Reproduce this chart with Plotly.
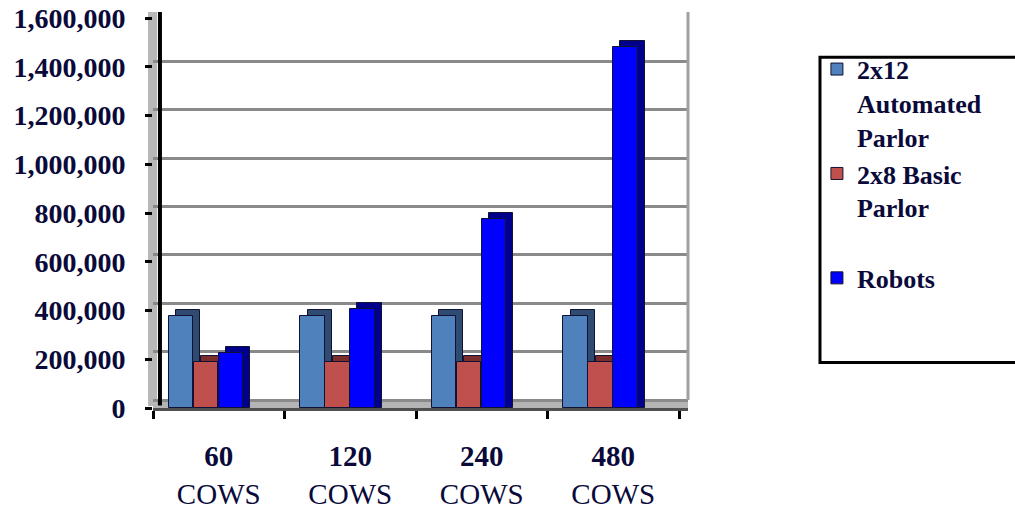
import plotly.graph_objects as go

categories = ["<b>60</b><br>COWS", "<b>120</b><br>COWS", "<b>240</b><br>COWS", "<b>480</b><br>COWS"]
series_names = ["<b>2x12<br>Automated<br>Parlor</b>", "<b>2x8 Basic<br>Parlor</b><br> ", "<b>Robots</b>"]
automated = [378000, 378000, 378000, 378000]
basic = [188000, 188000, 188000, 188000]
robots = [225000, 405000, 775000, 1480000]
tick_vals = [0, 200000, 400000, 600000, 800000, 1000000, 1200000, 1400000, 1600000]
tick_text = ["<b>0</b>", "<b>200,000</b>", "<b>400,000</b>", "<b>600,000</b>", "<b>800,000</b>",
             "<b>1,000,000</b>", "<b>1,200,000</b>", "<b>1,400,000</b>", "<b>1,600,000</b>"]

series = [automated, basic, robots]
front_colors = ["#4F81BD", "#C0504D", "#0000FF"]
side_colors = ["#2F4B72", "#7A2D2A", "#00008C"]
offsets = [-0.38, -0.19, 0.0]
W = 0.185
DX = 0.055     # depth shift (category units)
DY = 26000     # depth rise (value units)

fig = go.Figure()
for vals, name, fc, sc, off in zip(series, series_names, front_colors, side_colors, offsets):
    fig.add_trace(go.Bar(
        x=categories, y=[v + DY for v in vals], base=0, width=W, offset=off + DX,
        marker=dict(color=sc, line=dict(color="#111133", width=1)),
        showlegend=False, hoverinfo="skip"))
    fig.add_trace(go.Bar(
        x=categories, y=vals, width=W, offset=off, name=name,
        marker=dict(color=fc, line=dict(color="#111133", width=1))))

# invisible trace to anchor back-wall gridline axis
fig.add_trace(go.Scatter(x=categories, y=[None] * 4, yaxis="y2", showlegend=False, hoverinfo="skip"))

font_main = "Liberation Serif"
txt_color = "#0a0a3a"
fig.update_layout(
    width=1015, height=511,
    margin=dict(l=153, r=327, t=12, b=103),
    paper_bgcolor="white", plot_bgcolor="white",
    barmode="overlay", bargap=0,
    xaxis=dict(
        type="category", range=[-0.5, 3.5684],
        tickson="boundaries", ticks="outside", ticklen=8, tickwidth=3, tickcolor="black",
        showline=True, linecolor="#505050", linewidth=3, showgrid=False, zeroline=False,
        tickfont=dict(family=font_main, size=29, color=txt_color), ticklabelstandoff=20,
        automargin=False,
    ),
    yaxis=dict(
        range=[0, 1625000], tickvals=tick_vals, ticktext=tick_text,
        ticks="outside", ticklen=7, tickwidth=3, tickcolor="black",
        showgrid=False, zeroline=False, showline=False,
        tickfont=dict(family=font_main, size=28, color=txt_color), ticklabelstandoff=14,
        automargin=False,
    ),
    yaxis2=dict(
        overlaying="y", range=[-31800, 1603300], tickvals=tick_vals,
        showticklabels=False, ticks="", showgrid=True, gridcolor="#8a8a8a", gridwidth=3,
        zeroline=False, showline=False, automargin=False,
    ),
    legend=dict(
        x=1.241, y=0.915, xanchor="left", yanchor="top", valign="top",
        font=dict(family=font_main, size=26, color=txt_color),
        bgcolor="rgba(0,0,0,0)", borderwidth=0, traceorder="normal",
    ),
    shapes=[
        dict(type="rect", xref="paper", yref="paper", x0=0, x1=1, y0=0, y1=0.0195,
             fillcolor="#b4b4b4", line=dict(width=0), layer="below"),
        dict(type="rect", xref="paper", yref="paper", x0=-0.0093, x1=0.0075, y0=0.005, y1=1.0,
             fillcolor="#b8b8b8", line=dict(width=0), layer="below"),
        dict(type="line", xref="paper", yref="paper", x0=0.013, x1=0.013, y0=0.006, y1=1.0,
             line=dict(color="black", width=4)),
        dict(type="line", xref="paper", yref="paper", x0=1.0, x1=1.0, y0=0.02, y1=1.0,
             line=dict(color="#a0a0a0", width=3)),
        dict(type="rect", xref="paper", yref="paper", x0=1.2467, x1=1.66, y0=0.115, y1=0.886,
             fillcolor="rgba(0,0,0,0)", line=dict(color="black", width=3)),
    ],
)

fig.write_html("out.html")
